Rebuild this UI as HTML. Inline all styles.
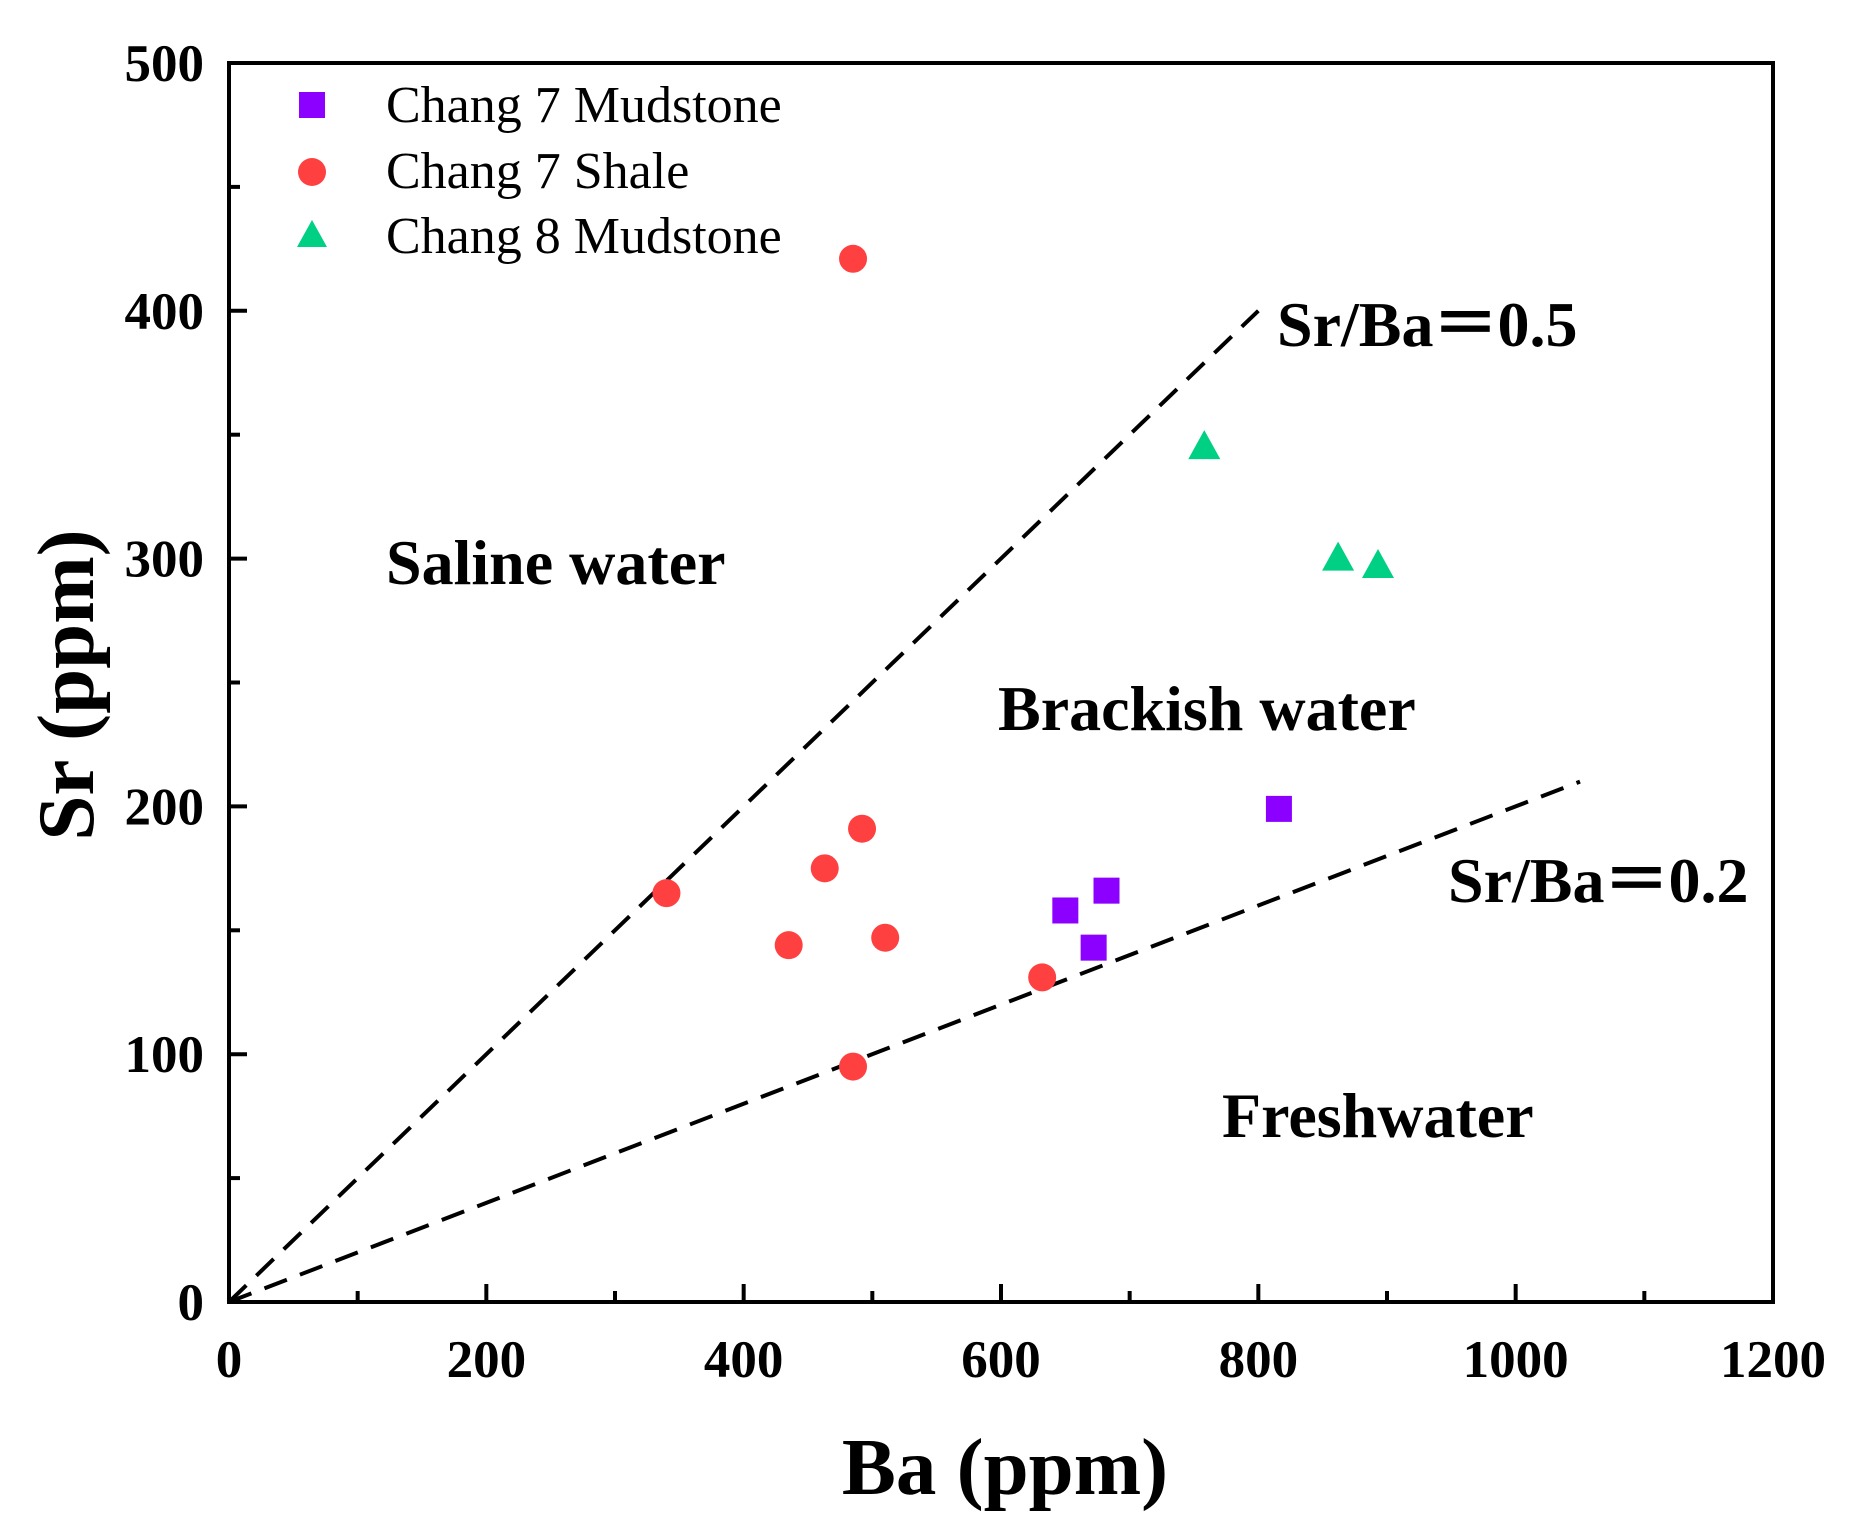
<!DOCTYPE html>
<html><head><meta charset="utf-8"><style>
body{margin:0;background:#fff}
svg{display:block;font-family:"Liberation Serif",serif}
</style></head><body>
<svg id="chart" width="1859" height="1531" viewBox="0 0 1859 1531">
<g id="axes"></g>
<g id="lines"></g>
<g id="marks"></g>
<g font-size="52">
 <rect x="299" y="92" width="26" height="26" fill="#8b00ff"/>
 <text x="386" y="122">Chang 7 Mudstone</text>
 <circle cx="312" cy="172" r="14" fill="#ff4040"/>
 <text x="386" y="188">Chang 7 Shale</text>
 <polygon points="312,220 327,247 297,247" fill="#00d084"/>
 <text x="386" y="253">Chang 8 Mudstone</text>
</g>
<g font-weight="bold" font-size="64">
 <text x="1277" y="346">Sr/Ba＝0.5</text>
 <text x="1448" y="902">Sr/Ba＝0.2</text>
 <text x="386" y="584">Saline water</text>
 <text x="998" y="730">Brackish water</text>
 <text x="1222" y="1137">Freshwater</text>
</g>
<text x="1005" y="1494" text-anchor="middle" font-weight="bold" font-size="81">Ba (ppm)</text>
<text transform="translate(93,685) rotate(-90)" text-anchor="middle" font-weight="bold" font-size="81">Sr (ppm)</text>
</svg>
<script>
const xTicks=[0,200,400,600,800,1000,1200];
const yTicks=[0,100,200,300,400,500];
const mud7Ba=[650,682,672,816];
const mud7Sr=[158,166,143,199];
const shaleBa=[485,340,435,463,492,510,632,485];
const shaleSr=[421,165,144,175,191,147,131,95];
const mud8Ba=[758,862,893];
const mud8Sr=[345,300,297];
const ratios=[0.5,0.2];
const ratioEndBa=[800,1050];
const L=229,R=1773,T=63,B=1302;
const X=v=>L+(v/1200)*(R-L);
const Y=v=>B-(v/500)*(B-T);
const NS='http://www.w3.org/2000/svg';
function mk(tag,attrs,parent){const e=document.createElementNS(NS,tag);for(const k in attrs)e.setAttribute(k,attrs[k]);parent.appendChild(e);return e;}
const axes=document.getElementById('axes');
let f=mk('rect',{x:L,y:T,width:R-L,height:B-T,fill:'none',stroke:'#000','stroke-width':4},axes);


xTicks.forEach((t,i)=>{
 let l=mk('line',{x1:X(t),x2:X(t),y1:B,y2:B-18,stroke:'#000','stroke-width':4},axes);
 
 
 if(i<xTicks.length-1){let m=mk('line',{x1:X(t+100),x2:X(t+100),y1:B,y2:B-11,stroke:'#000','stroke-width':4},axes);
 
 }
 let tx=mk('text',{x:X(t),y:1377,'text-anchor':'middle','font-weight':'bold','font-size':53},axes);
 tx.textContent=t;
 
 
});
yTicks.forEach((t,i)=>{
 let l=mk('line',{x1:L,x2:L+18,y1:Y(t),y2:Y(t),stroke:'#000','stroke-width':4},axes);
 
 
 if(i<yTicks.length-1){let m=mk('line',{x1:L,x2:L+11,y1:Y(t+50),y2:Y(t+50),stroke:'#000','stroke-width':4},axes);
 
 }
 let tx=mk('text',{x:204,y:Y(t)+18,'text-anchor':'end','font-weight':'bold','font-size':53},axes);
 tx.textContent=t;
 
 
});
const lines=document.getElementById('lines');
ratios.forEach((r,i)=>{
 let l=mk('line',{x1:X(0),y1:Y(0),x2:X(ratioEndBa[i]),y2:Y(ratioEndBa[i]*r),stroke:'#000','stroke-width':4,'stroke-dasharray':'24 14'},lines);
 
 
});
const marks=document.getElementById('marks');
mud7Ba.forEach((b,i)=>{
 let s=mk('rect',{x:X(b)-13,y:Y(mud7Sr[i])-13,width:26,height:26,fill:'#8b00ff'},marks);
 
 
});
shaleBa.forEach((b,i)=>{
 let c=mk('circle',{cx:X(b),cy:Y(shaleSr[i]),r:14,fill:'#ff4040'},marks);
 
 
});
mud8Ba.forEach((b,i)=>{
 const x=X(b),y=Y(mud8Sr[i]);
 let p=mk('polygon',{points:`${x},${y-17} ${x+16},${y+12} ${x-16},${y+12}`,fill:'#00d084'},marks);
 
 
});
</script>
</body></html>
